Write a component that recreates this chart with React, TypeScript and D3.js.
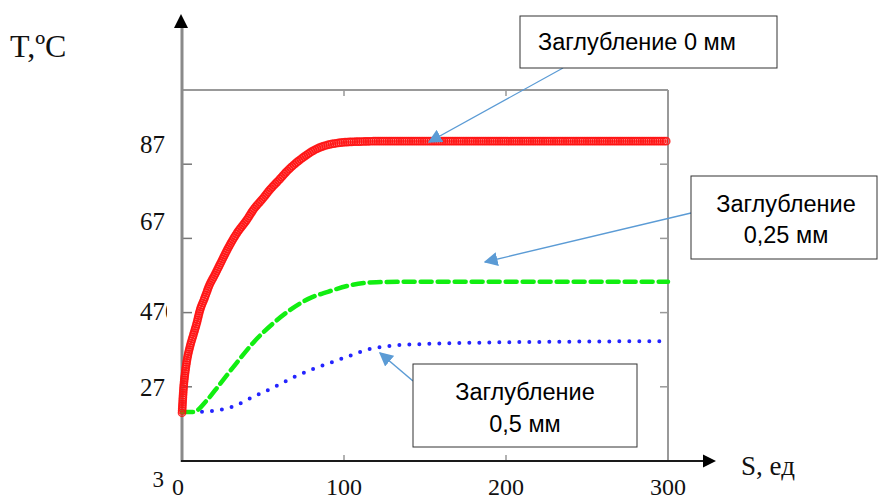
import React, { useLayoutEffect, useRef, useState } from "react";
import * as d3 from "d3";

// ---- data ----
const S_RED = [0, 1, 2, 3, 5, 7, 9, 11, 14, 17, 20, 24, 28, 34, 40, 44, 50, 54, 60, 65, 70, 75, 80, 85, 90, 96, 100, 110, 120, 150, 200, 250, 300];
const T_RED = [20, 27, 31, 34, 38, 41, 44, 47.5, 51, 54.5, 57, 60.5, 64, 68.5, 72, 74.7, 77.8, 80, 82.8, 85.2, 87.2, 88.9, 90.4, 91.5, 92.2, 92.7, 92.9, 93.1, 93.2, 93.2, 93.2, 93.2, 93.2];

const S_GREEN = [0, 7, 15, 23, 34, 44, 56, 67, 79, 90, 104, 120, 140, 170, 300];
const T_GREEN = [20.2, 20.2, 23.2, 27.5, 33.6, 38.9, 44, 47.8, 50.9, 52.6, 54.4, 55.2, 55.3, 55.3, 55.3];

const S_BLUE = [0, 7, 19, 31, 44, 56, 68, 81, 93, 105, 116, 128, 147, 200, 300];
const T_BLUE = [20.2, 20.2, 20.5, 21.6, 24.3, 26.7, 29.4, 31.8, 33.7, 35.6, 37.2, 38, 38.5, 39, 39.3];

const Y_TICKS = [27, 47, 67, 87];
const Y_TICK_LABELS = ["27", "470", "67", "87"];
const Y_LABEL_DY = [9, 7, -8, -11];
const X_TICKS = [0, 100, 200, 300];
const X_TICK_LABELS = ["0", "100", "200", "300"];

const X_TITLE = "S, ед";
const Y_TITLE = "T,ºC";
const NOTE_0 = ["Заглубление 0 мм"];
const NOTE_25 = ["Заглубление", "0,25 мм"];
const NOTE_50 = ["Заглубление", "0,5 мм"];

const W = 881;
const H = 501;

export default function App() {
  const x = d3.scaleLinear().domain([0, 300]).range([182, 668]);
  const y = d3.scaleLinear().domain([7, 107]).range([461, 90]);

  const line = d3
    .line<[number, number]>()
    .x((d) => x(d[0]))
    .y((d) => y(d[1]))
    .curve(d3.curveMonotoneX);

  const red = line(S_RED.map((s, i) => [s, T_RED[i]]) as [number, number][]) || "";
  const green = line(S_GREEN.map((s, i) => [s, T_GREEN[i]]) as [number, number][]) || "";
  const blue = line(S_BLUE.map((s, i) => [s, T_BLUE[i]]) as [number, number][]) || "";

  const redRef = useRef<SVGPathElement>(null);
  const [marks, setMarks] = useState<{ x: number; y: number }[]>([]);
  useLayoutEffect(() => {
    const p = redRef.current;
    if (!p) return;
    const L = p.getTotalLength();
    const pts: { x: number; y: number }[] = [];
    for (let l = 0; l <= L; l += 2.2) {
      const pt = p.getPointAtLength(l);
      pts.push({ x: pt.x, y: pt.y });
    }
    setMarks(pts);
  }, [red]);

  const serif = "'Liberation Serif', 'Times New Roman', serif";
  const sans = "'Liberation Sans', Arial, sans-serif";
  const blueC = "#5b9bd5";

  const [x0, x1] = x.range();
  const [yb, yt] = y.range();

  return (
    <svg
      width={W}
      height={H}
      style={{ position: "absolute", left: 0, top: 0, background: "#fff" }}
    >
      <defs>
        <marker id="ahBig" viewBox="0 0 10 10" refX="9" refY="5" markerWidth="14" markerHeight="14" markerUnits="userSpaceOnUse" orient="auto">
          <path d="M0,0 L10,5 L0,10 z" fill={blueC} />
        </marker>
        <clipPath id="lblclip">
          <rect x={0} y={0} width={167} height={H} />
        </clipPath>
      </defs>

      {/* frame */}
      <line x1={x0} y1={yt} x2={x1} y2={yt} stroke="#999" strokeWidth={2} />
      <line x1={x1} y1={yt} x2={x1} y2={yb} stroke="#999" strokeWidth={2} />

      {/* inner ticks */}
      {Y_TICKS.map((t) => (
        <g key={"yt" + t}>
          <line x1={x0} x2={x0 + 10} y1={y(t)} y2={y(t)} stroke="#777" strokeWidth={1.5} />
          <line x1={x1 - 8} x2={x1} y1={y(t)} y2={y(t)} stroke="#999" strokeWidth={1.5} />
        </g>
      ))}
      {X_TICKS.slice(1, 3).map((t) => (
        <g key={"xt" + t}>
          <line x1={x(t)} x2={x(t)} y1={yt} y2={yt + 6} stroke="#999" strokeWidth={1.5} />
          <line x1={x(t)} x2={x(t)} y1={yb} y2={yb - 6} stroke="#999" strokeWidth={1.5} />
        </g>
      ))}

      {/* y axis */}
      <line x1={x0} y1={yb + 1} x2={x0} y2={26} stroke="#8a8a8a" strokeWidth={3} />
      <path d={`M${x0 - 1},14 L${x0 - 8},28 L${x0 + 6},28 Z`} fill="#000" />

      {/* x axis */}
      <line x1={x0 - 1} y1={yb} x2={704} y2={yb} stroke="#1a1a1a" strokeWidth={2.2} />
      <path d={`M716,${yb} L703,${yb - 6.5} L703,${yb + 6.5} Z`} fill="#000" />

      {/* curves */}
      <path d={blue} fill="none" stroke="#2424ff" strokeWidth={4} strokeDasharray="0 10" strokeLinecap="round" />
      <path d={green} fill="none" stroke="#11ee11" strokeWidth={4.5} strokeDasharray="11 6" strokeLinecap="round" />
      <path ref={redRef} d={red} fill="none" stroke="#ff2020" strokeWidth={3} strokeOpacity={0.6} />
      {marks.map((m, i) => (
        <circle key={i} cx={m.x} cy={m.y} r={3.6} fill="none" stroke="#ff1010" strokeWidth={1.5} strokeOpacity={0.85} />
      ))}

      {/* tick labels */}
      {Y_TICKS.map((t, i) => (
        <text
          key={"yl" + t}
          x={140}
          y={y(t) + Y_LABEL_DY[i]}
          fontFamily={serif}
          fontSize={25}
          fill="#111"
          clipPath="url(#lblclip)"
        >
          {Y_TICK_LABELS[i]}
        </text>
      ))}
      <text x={164} y={487} textAnchor="end" fontFamily={serif} fontSize={23} fill="#111">3</text>
      {X_TICKS.map((t, i) => (
        <text
          key={"xl" + t}
          x={i === 0 ? x(t) - 4 : x(t)}
          y={495}
          textAnchor="middle"
          fontFamily={serif}
          fontSize={24}
          fill="#111"
        >
          {X_TICK_LABELS[i]}
        </text>
      ))}

      {/* axis titles */}
      <text x={10} y={57} fontFamily={serif} fontSize={32} fill="#111">{Y_TITLE}</text>
      <text x={741} y={475} fontFamily={serif} fontSize={27} fill="#111">{X_TITLE}</text>

      {/* annotations */}
      <line x1={563} y1={68} x2={429} y2={142} stroke={blueC} strokeWidth={1.3} markerEnd="url(#ahBig)" />
      <line x1={691} y1={213} x2={485} y2={262} stroke={blueC} strokeWidth={1.3} markerEnd="url(#ahBig)" />
      <line x1={413} y1={381} x2={380} y2={353} stroke={blueC} strokeWidth={1.5} markerEnd="url(#ahBig)" />

      <rect x={520} y={16} width={257} height={52} fill="#fff" stroke="#333" strokeWidth={1} />
      <text x={538} y={50} fontFamily={sans} fontSize={23.5} fill="#000">{NOTE_0[0]}</text>

      <rect x={691} y={176} width={186} height={83} fill="#fff" stroke="#333" strokeWidth={1} />
      {NOTE_25.map((s, i) => (
        <text key={s} x={786} y={212 + i * 31} textAnchor="middle" fontFamily={sans} fontSize={23.5} fill="#000">{s}</text>
      ))}

      <rect x={413} y={364} width={224} height={83} fill="#fff" stroke="#333" strokeWidth={1} />
      {NOTE_50.map((s, i) => (
        <text key={s} x={525} y={400 + i * 32} textAnchor="middle" fontFamily={sans} fontSize={23.5} fill="#000">{s}</text>
      ))}
    </svg>
  );
}
